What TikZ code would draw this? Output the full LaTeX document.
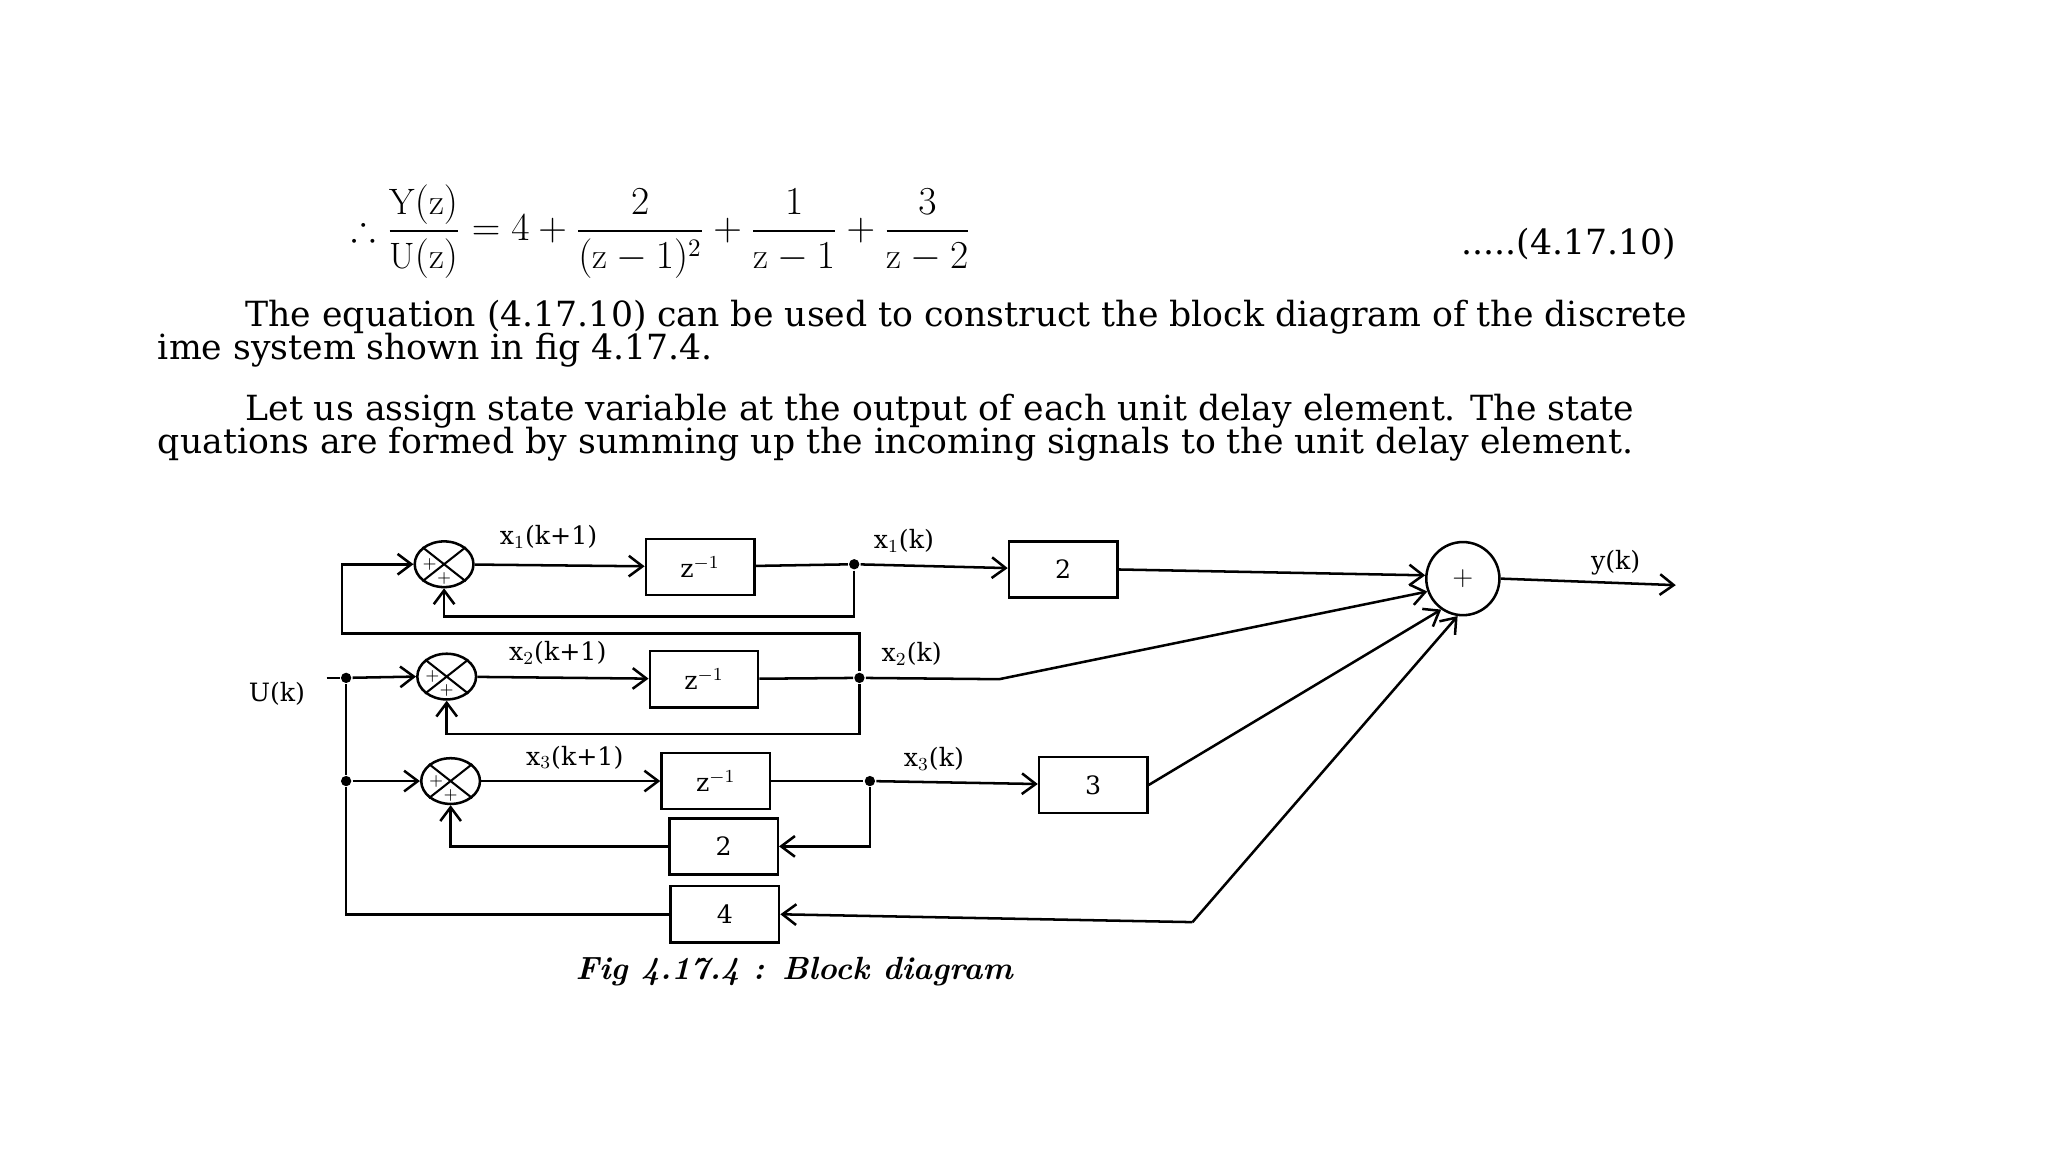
\documentclass[tikz,border=0pt]{standalone}
\usepackage{amsmath,amssymb}
\usepackage{fontspec}
\newfontfamily\dvs{DejaVu Serif}
\usetikzlibrary{shapes.geometric,arrows.meta}
\begin{document}
\begin{tikzpicture}[x=0.02cm,y=-0.02cm,line width=1.1pt,
  blk/.style={draw,minimum width=1.66cm,minimum height=0.86cm,inner sep=0pt,font=\dvs\fontsize{11}{14}\selectfont},
  sm/.style={draw,ellipse,minimum width=0.9cm,minimum height=0.7cm,inner sep=0pt},
  arr/.style={-{Straight Barb[length=6pt,width=9pt]}},
  lbl/.style={font=\dvs\fontsize{11}{14}\selectfont,inner sep=1pt},
  dot/.style={circle,fill,inner sep=0pt,minimum size=4.5pt},
  txt/.style={font=\dvs\fontsize{15.1}{18}\selectfont,anchor=west,inner sep=0pt}]
\useasboundingbox (0,0) rectangle (1568,882);
% header text
\node[txt,font=\fontsize{16}{18}\selectfont] (eq) at (268,177) {$\therefore\dfrac{\mathrm{Y(z)}}{\mathrm{U(z)}}=4+\dfrac{2}{(\mathrm{z}-1)^2}+\dfrac{1}{\mathrm{z}-1}+\dfrac{3}{\mathrm{z}-2}$};
\node[txt] (eqn) at (1118,187) {.....(4.17.10)};
\node[txt] (p1) at (187,243) {The equation (4.17.10) can be used to construct the block diagram of the discrete};
\node[txt] (p2) at (120,268) {ime system shown in fig 4.17.4.};
\node[txt] (p3) at (187,315) {Let us assign state variable at the output of each unit delay element. The state};
\node[txt] (p4) at (120,340) {quations are formed by summing up the incoming signals to the unit delay element.};
% sums
\foreach \n/\x/\y in {s1/340/432,s2/342/518,s3/345/598}{
  \node[sm] (\n) at (\x,\y) {};
  \draw[line width=0.9pt] (\n.north east)--(\n.south west) (\n.north west)--(\n.south east);
  \node[font=\scriptsize,inner sep=0pt] at ([xshift=-0.22cm]\n.center) {$+$};
  \node[font=\scriptsize,inner sep=0pt] at ([yshift=-0.22cm]\n.center) {$+$};
}
% delay blocks
\node[blk] (d1) at (536,434) {z$^{-1}$};
\node[blk] (d2) at (539,520) {z$^{-1}$};
\node[blk] (d3) at (548,598) {z$^{-1}$};
\node[blk] (g2b) at (554,648) {2};
\node[blk] (g4) at (555,700) {4};
\node[blk] (g2) at (814,436) {2};
\node[blk] (g3) at (837,601) {3};
\node[draw,circle,minimum size=1.12cm,inner sep=0pt,font=\large] (out) at (1120,443) {$+$};
% dots
\node[dot] (p1d) at (654,432) {};
\node[dot] (p2d) at (658,519) {};
\node[dot] (p3d) at (666,598) {};
\node[dot] (b1) at (265,519) {};
\node[dot] (b2) at (265,598) {};
\coordinate (uin) at (250,519);
\coordinate (yo) at (1283,448);
\coordinate (k4) at (913,706);
% forward paths
\draw[arr] (s1) -- (d1);
\draw[arr] (s2) -- (d2);
\draw[arr] (s3) -- (d3);
\draw (d1) -- (p1d); \draw (d2) -- (p2d); \draw (d3) -- (p3d);
\draw[arr] (p1d) -- (g2);
\draw[arr] (p3d) -- (g3);
\draw[arr] (g2.east) -- (out.175);
\draw[arr] (p2d) -- (765,520) -- (out.200);
\draw[arr] (g3.east) -- (out.235);
\draw[arr] (k4) -- (out.262);
\draw[arr] (k4) -- (g4.east);
\draw[arr] (out.east) -- (yo);
% feedback
\draw[arr] (p1d) |- (340,472) -- (s1.south);
\draw[arr] (p2d) |- (342,562) -- (s2.south);
\draw[arr] (p3d) |- (g2b.east);
\draw[arr] (g2b.west) -| (s3.south);
\draw[arr] (p2d) -- (658,485) -- (262,485) |- (s1.west);
% input bus
\draw (uin) -- (b1);
\draw[arr] (b1) -- (s2.west);
\draw (b1) -- (b2) |- (g4.west);
\draw[arr] (b2) -- (s3.west);
% labels
\node[lbl] at (420,411) {x$_1$(k+1)};
\node[lbl] at (427,500) {x$_2$(k+1)};
\node[lbl] at (440,580) {x$_3$(k+1)};
\node[lbl] at (692,414) {x$_1$(k)};
\node[lbl] at (698,501) {x$_2$(k)};
\node[lbl] at (715,581) {x$_3$(k)};
\node[lbl] at (212,531) {U(k)};
\node[lbl] at (1237,431) {y(k)};
\node[font=\fontsize{14}{16}\selectfont\bfseries\itshape] (cap) at (608,744) {Fig 4.17.4 : Block diagram};
\end{tikzpicture}
\end{document}
